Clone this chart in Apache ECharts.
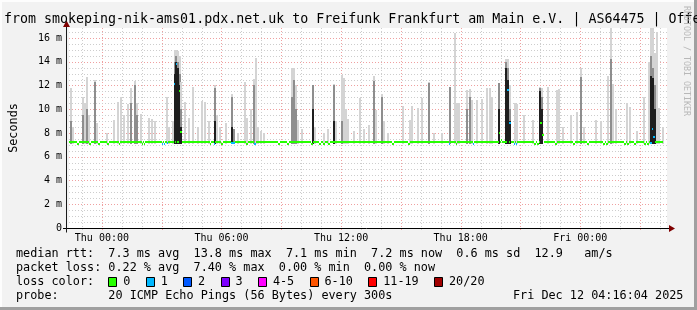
<!DOCTYPE html>
<html>
<head>
<meta charset="utf-8">
<script src="https://cdn.jsdelivr.net/npm/echarts@6/dist/echarts.min.js"></script>
<style>
html,body{margin:0;padding:0;background:#f2f2f2;}
#c{width:697px;height:310px;}
</style>
</head>
<body>
<div id="c"></div>
<script>
// ---------------- data ----------------
const titleText = 'from smokeping-nik-ams01.pdx.net.uk to Freifunk Frankfurt am Main e.V. | AS64475 | Offe';
const yAxisName = 'Seconds';
const watermarkText = 'RRDTOOL / TOBI OETIKER';

// x axis in hours relative to Thu 00:00
const axisStartHour = -1.65;
const axisEndHour = 28.35;
const xTickHours = [0, 6, 12, 18, 24];
const xTickLabels = ['Thu 00:00', 'Thu 06:00', 'Thu 12:00', 'Thu 18:00', 'Fri 00:00'];
const yMax = 16.842;
const yTickValues = [0, 2, 4, 6, 8, 10, 12, 14, 16];
const yTickLabels = ['0', '2 m', '4 m', '6 m', '8 m', '10 m', '12 m', '14 m', '16 m'];
const stepHours = 1 / 12;   // 300 s

// smoke spikes (ms): start hour, highest ping, dense grey top, darkest core top
const spikeHour = [
  -1.6,-1.5,-1.0,-0.9,-0.8,-0.7,-0.4,-0.3,0.2,0.55,
  0.75,0.9,1.05,1.25,1.4,1.6,1.7,1.9,2.3,2.45,
  2.6,3.2,3.3,3.5,3.6,3.68,3.77,3.85,3.93,4.1,
  4.3,4.5,4.75,4.95,5.1,5.3,5.6,5.7,5.9,6.2,
  6.5,6.6,6.8,7.15,7.25,7.45,7.6,7.7,7.8,7.95,
  8.1,9.5,9.6,9.7,9.8,10.0,10.55,10.65,11.1,11.3,
  11.6,11.7,12.0,12.1,12.2,12.3,12.6,12.9,13.1,13.35,
  13.58,13.7,14.0,14.1,14.3,15.05,15.4,15.5,15.8,16.0,
  16.35,16.6,17.0,17.4,17.65,17.75,17.85,18.25,18.4,18.5,
  18.75,19.0,19.25,19.4,19.5,19.85,20.2,20.3,20.4,20.65,
  20.75,21.15,21.6,21.95,22.05,22.35,22.8,22.9,23.1,23.5,
  23.8,24.0,24.15,24.75,25.0,25.35,25.5,25.6,25.75,26.3,
  26.45,26.8,27.15,27.4,27.5,27.6,27.7,27.8,27.9,28.1
];
const spikeMax = [
  11.8,8.5,11.05,10.5,12.7,9.5,12.5,8.8,8.0,9.1,
  10.6,11.0,9.5,10.4,11.8,12.4,10.5,9.6,9.3,9.2,
  9.0,11.0,8.5,9.0,15.0,15.0,14.9,14.5,12.3,10.6,
  9.3,11.9,8.5,10.7,10.6,9.0,12.0,9.5,8.5,8.8,
  11.3,8.3,8.0,12.3,9.3,10.0,12.55,14.3,8.5,8.2,
  8.0,13.5,13.5,12.0,9.1,8.3,12.07,8.5,8.0,8.3,
  12.1,9.0,12.9,12.6,10.0,9.2,8.2,10.95,8.3,8.7,
  12.8,9.9,11.3,9.0,8.0,10.3,9.1,10.3,10.1,10.95,
  12.3,8.0,8.0,11.9,16.4,10.5,10.5,11.65,11.7,10.8,
  10.8,10.9,11.8,11.8,11.0,12.2,14.2,14.2,12.0,10.5,
  10.4,9.5,9.1,11.9,11.8,11.9,11.65,11.7,8.5,9.5,
  9.8,13.5,8.5,9.1,9.0,12.8,16.84,12.1,10.0,10.5,
  10.2,8.2,11.0,14.0,16.84,16.84,14.7,16.5,10.1,8.5
];
const spikeMid = [
  9.0,0,9.5,0,10.0,0,12.3,0,0,0,
  0,0,0,0,10.5,12.0,9.5,0,0,0,
  0,0,0,0,14.0,14.5,14.0,13.0,10.0,0,
  0,0,0,0,0,0,11.8,0,0,0,
  11.0,8.3,0,0,0,0,12.0,0,0,0,
  0,11.0,12.5,10.0,0,0,12.0,0,0,0,
  12.0,0,9.0,0,0,0,0,0,0,0,
  12.4,0,11.0,0,0,0,0,0,0,0,
  12.2,0,0,11.9,0,0,0,10.0,11.0,0,
  0,0,0,0,0,12.2,14.0,13.5,10.0,0,
  0,0,0,11.8,11.0,0,0,0,0,0,
  0,12.7,0,0,0,0,14.2,0,0,0,
  0,0,0,0,14.5,13.5,12.0,0,0,0
];
const spikeCore = [
  0,0,0,0,0,0,0,0,0,0,
  0,0,0,0,0,0,0,0,0,0,
  0,0,0,0,13.0,14.0,13.5,12.0,8.5,0,
  0,0,0,0,0,0,9.0,0,0,0,
  8.5,0,0,0,0,0,0,0,0,0,
  0,0,0,0,0,0,10.0,0,0,0,
  9.0,0,0,0,0,0,0,0,0,0,
  0,0,0,0,0,0,0,0,0,0,
  0,0,0,0,0,0,0,0,0,0,
  0,0,0,0,0,10.0,13.5,12.5,9.0,0,
  0,0,0,11.5,10.0,0,0,0,0,0,
  0,0,0,0,0,0,0,0,0,0,
  0,0,0,0,12.8,12.6,10.0,0,0,0
];
const smokeFloor = 7.1;

// median rtt: usual level, and the steps that differ (hour, value, loss class)
const medianBase = 7.2;
const medianStartHour = -1.667;
const medianEndHour = 28.17;
const medHour = [
  -1.25,-0.65,-0.2,0.25,0.85,2.0,2.1,3.0,3.1,3.25,
  3.6,3.7,3.85,3.93,5.4,5.6,6.0,6.5,6.6,7.25,
  7.65,8.85,9.3,10.5,10.9,11.1,11.35,14.55,15.35,17.4,
  17.75,18.6,19.9,20.0,20.33,20.42,20.65,20.75,21.7,21.85,
  22.0,22.08,22.75,23.65,24.35,25.15,25.3,26.2,26.35,26.7,
  27.2,27.35,27.5,27.58,27.65
];
const medValue = [
  7.05,7.05,7.05,7.05,7.05,7.05,7.05,7.05,7.05,7.15,
  12.1,13.8,11.5,8.1,7.05,7.1,7.05,7.15,7.15,7.05,
  7.05,7.05,7.05,7.05,7.05,7.05,7.05,7.05,7.05,7.1,
  7.05,7.05,8.0,7.4,11.65,8.8,7.1,7.1,7.05,7.05,
  8.8,7.8,7.05,7.05,7.05,7.05,7.05,7.05,7.05,7.05,
  7.05,7.05,7.15,8.35,7.7
];
const medLoss = [
  0,0,0,0,0,0,0,1,1,1,
  1,1,0,0,0,1,0,1,1,0,
  1,0,0,0,0,0,0,0,0,1,
  0,1,0,0,1,1,1,1,0,0,
  0,0,0,0,0,0,0,0,0,0,
  0,0,1,1,1
];

const lossLabels = ['0', '1', '2', '3', '4-5', '6-10', '11-19', '20/20'];
const lossColors = ['#26ff00', '#00b8ff', '#0059ff', '#7e00ff', '#ff00ff', '#ff5500', '#ff0000', '#a10000'];

const statsMedianLine = 'median rtt:  7.3 ms avg  13.8 ms max  7.1 ms min  7.2 ms now  0.6 ms sd  12.9   am/s';
const statsLossLine = 'packet loss: 0.22 % avg  7.40 % max  0.00 % min  0.00 % now';
const lossColorTitle = 'loss color:';
const probeLine = 'probe:       20 ICMP Echo Pings (56 Bytes) every 300s';
const stampText = 'Fri Dec 12 04:16:04 2025';

// ---------------- styling ----------------
const MONO = '"DejaVu Sans Mono", "Liberation Mono", monospace';
const legendFont = 11.8;
const charW = 7.1;
const smokeColors = ['#d4d4d4', '#8e8e8e', '#1e1e1e'];
const gridMajorColor = '#efa0a0';
const gridMinorColor = '#cdcdcd';
const G = { left: 67, top: 28, width: 600, height: 200 };

// grid tick values (axis ticks, not data)
const hourGrid = [];
for (let h = Math.ceil(axisStartHour); h <= Math.floor(axisEndHour); h++) hourGrid.push([h, h % 3 === 0 ? 1 : 0]);
const valueGrid = [];
for (let k = 1; k * 0.5 < yMax; k++) valueGrid.push([k * 0.5, (k * 0.5) % 2 === 0 ? 1 : 0]);

// median segments: baseline runs between the differing steps
const events = medHour.map((h, i) => [h, medValue[i], medLoss[i]]).sort((a, b) => a[0] - b[0]);
const medianSegs = [];
let cursor = medianStartHour;
for (const [h, v, l] of events) {
  if (h > cursor) medianSegs.push([cursor, h, medianBase, 0]);
  medianSegs.push([h, h + stepHours, v, l]);
  cursor = Math.max(cursor, h + stepHours);
}
if (cursor < medianEndHour) medianSegs.push([cursor, medianEndHour, medianBase, 0]);

const chart = echarts.init(document.getElementById('c'), null, { renderer: 'canvas', width: 697, height: 310 });

function textEl(text, x, y, size, extra) {
  return Object.assign({
    type: 'text', x: x, y: y, z: 100, silent: true,
    style: Object.assign({
      text: text, fill: '#000', fontSize: size, fontFamily: MONO,
      align: 'left', verticalAlign: 'middle', textAlign: 'left', textVerticalAlign: 'middle'
    }, (extra && extra.style) || {})
  }, extra ? { rotation: extra.rotation || 0 } : {});
}

const graphics = [];
// frame
graphics.push({ type: 'rect', z: 100, silent: true, shape: { x: 0, y: 0, width: 697, height: 2 }, style: { fill: '#fdfdfd' } });
graphics.push({ type: 'rect', z: 100, silent: true, shape: { x: 0, y: 0, width: 2, height: 310 }, style: { fill: '#fdfdfd' } });
graphics.push({ type: 'rect', z: 100, silent: true, shape: { x: 0, y: 307, width: 697, height: 3 }, style: { fill: '#a0a0a0' } });
graphics.push({ type: 'rect', z: 100, silent: true, shape: { x: 694, y: 0, width: 3, height: 310 }, style: { fill: '#a0a0a0' } });
// axes lines and arrows
const axY = G.top + G.height + 0.5;
const axX = G.left - 0.5;
graphics.push({ type: 'line', z: 90, silent: true, shape: { x1: G.left - 4, y1: axY, x2: G.left + G.width + 3, y2: axY }, style: { stroke: '#000', lineWidth: 1 } });
graphics.push({ type: 'line', z: 90, silent: true, shape: { x1: axX, y1: axY + 4, x2: axX, y2: G.top - 2 }, style: { stroke: '#1a1a1a', lineWidth: 1 } });
graphics.push({ type: 'polygon', z: 91, silent: true, shape: { points: [[axX, G.top - 7.5], [axX - 3.5, G.top - 1], [axX + 3.5, G.top - 1]] }, style: { fill: '#7f0000' } });
graphics.push({ type: 'polygon', z: 91, silent: true, shape: { points: [[G.left + G.width + 8, axY], [G.left + G.width + 2, axY - 3.5], [G.left + G.width + 2, axY + 3.5]] }, style: { fill: '#7f0000' } });
// title
graphics.push(textEl(titleText, 4, 19.5, 13.3));
// watermark
graphics.push(textEl(watermarkText, 686.5, 61, 8.3, { rotation: -Math.PI / 2, style: { fill: '#b8b8b8', align: 'center', textAlign: 'center' } }));
// legend text
graphics.push(textEl(statsMedianLine, 16, 253.8, legendFont));
graphics.push(textEl(statsLossLine, 16, 267.8, legendFont));
graphics.push(textEl(lossColorTitle, 16, 281.8, legendFont));
graphics.push(textEl(probeLine, 16, 296, legendFont));
graphics.push(textEl(stampText, 16 + 70 * charW, 296, legendFont));
// loss colour boxes
let bx = 16 + 13 * charW;
lossLabels.forEach((lab, i) => {
  graphics.push({ type: 'rect', z: 100, silent: true,
    shape: { x: Math.round(bx) + 0.5, y: 277.5, width: 8, height: 9 },
    style: { fill: lossColors[i], stroke: '#000', lineWidth: 1 } });
  graphics.push(textEl(lab, bx + 15, 281.8, legendFont));
  bx = bx + 15 + lab.length * charW + 15.3;
});

const option = {
  animation: false,
  backgroundColor: '#f2f2f2',
  grid: { left: G.left, top: G.top, width: G.width, height: G.height, show: true, backgroundColor: '#ffffff', borderWidth: 0 },
  xAxis: {
    type: 'value', min: axisStartHour, max: axisEndHour,
    axisLine: { show: false }, axisTick: { show: false }, splitLine: { show: false },
    axisLabel: {
      customValues: xTickHours,
      formatter: function (v) { const i = xTickHours.indexOf(v); return i >= 0 ? xTickLabels[i] : ''; },
      fontFamily: MONO, fontSize: 10, color: '#000', margin: 5
    }
  },
  yAxis: {
    type: 'value', min: 0, max: yMax, interval: 2,
    name: yAxisName, nameLocation: 'middle', nameGap: 49, nameRotate: 90,
    nameTextStyle: { fontFamily: MONO, fontSize: legendFont, color: '#000' },
    axisLine: { show: false }, axisTick: { show: false }, splitLine: { show: false },
    axisLabel: {
      formatter: function (v) {
        for (let i = 0; i < yTickValues.length; i++) if (Math.abs(yTickValues[i] - v) < 1e-6) return yTickLabels[i];
        return '';
      },
      fontFamily: MONO, fontSize: 10, color: '#000', margin: 7
    }
  },
  series: [
    {
      name: 'vgrid', type: 'custom', z: 1, silent: true,
      data: hourGrid, encode: { x: 0 },
      renderItem: function (params, api) {
        const r = params.coordSys;
        const x = Math.round(api.coord([api.value(0), 0])[0]) + 0.5;
        return { type: 'line', shape: { x1: x, y1: r.y, x2: x, y2: r.y + r.height + 3 },
          style: { stroke: api.value(1) ? gridMajorColor : gridMinorColor, lineWidth: 1, lineDash: [1, 2] } };
      }
    },
    {
      name: 'hgrid', type: 'custom', z: 1, silent: true,
      data: valueGrid.map(d => [axisStartHour, d[0], d[1]]), encode: { x: 0, y: 1 },
      renderItem: function (params, api) {
        const r = params.coordSys;
        const y = Math.round(api.coord([axisStartHour, api.value(1)])[1]) + 0.5;
        return { type: 'line', shape: { x1: r.x, y1: y, x2: r.x + r.width, y2: y },
          style: { stroke: api.value(2) ? gridMajorColor : gridMinorColor, lineWidth: 1, lineDash: [1, 2] } };
      }
    },
    {
      name: 'smoke', type: 'custom', z: 2, silent: true, clip: true,
      data: spikeHour.map((h, i) => [h, spikeMax[i], spikeMid[i], spikeCore[i]]),
      encode: { x: 0, y: 1 },
      renderItem: function (params, api) {
        const h = api.value(0);
        const pb = api.coord([h, smokeFloor]);
        const pe = api.coord([h + stepHours, smokeFloor]);
        const xa = Math.round(pb[0]);
        const w = Math.max(2, Math.round(pe[0]) - xa);
        const yb = Math.round(pb[1]);
        const kids = [];
        [1, 2, 3].forEach(function (d, k) {
          const v = api.value(d);
          if (v > smokeFloor) {
            const yt = Math.round(api.coord([h, Math.min(v, yMax)])[1]);
            kids.push({ type: 'rect', shape: { x: xa, y: yt, width: w, height: yb - yt }, style: { fill: smokeColors[k] } });
          }
        });
        return { type: 'group', children: kids };
      }
    },
    {
      name: 'median', type: 'custom', z: 4, silent: true,
      data: medianSegs, encode: { x: [0, 1], y: 2 },
      renderItem: function (params, api) {
        const p0 = api.coord([api.value(0), api.value(2)]);
        const p1 = api.coord([api.value(1), api.value(2)]);
        const xa = Math.round(p0[0]);
        const w = Math.max(1, Math.round(p1[0]) - xa);
        return { type: 'rect', shape: { x: xa, y: Math.round(p0[1] - 1), width: w, height: 2 },
          style: { fill: lossColors[api.value(3)] } };
      }
    }
  ],
  graphic: { elements: graphics }
};
chart.setOption(option);
</script>
</body>
</html>
